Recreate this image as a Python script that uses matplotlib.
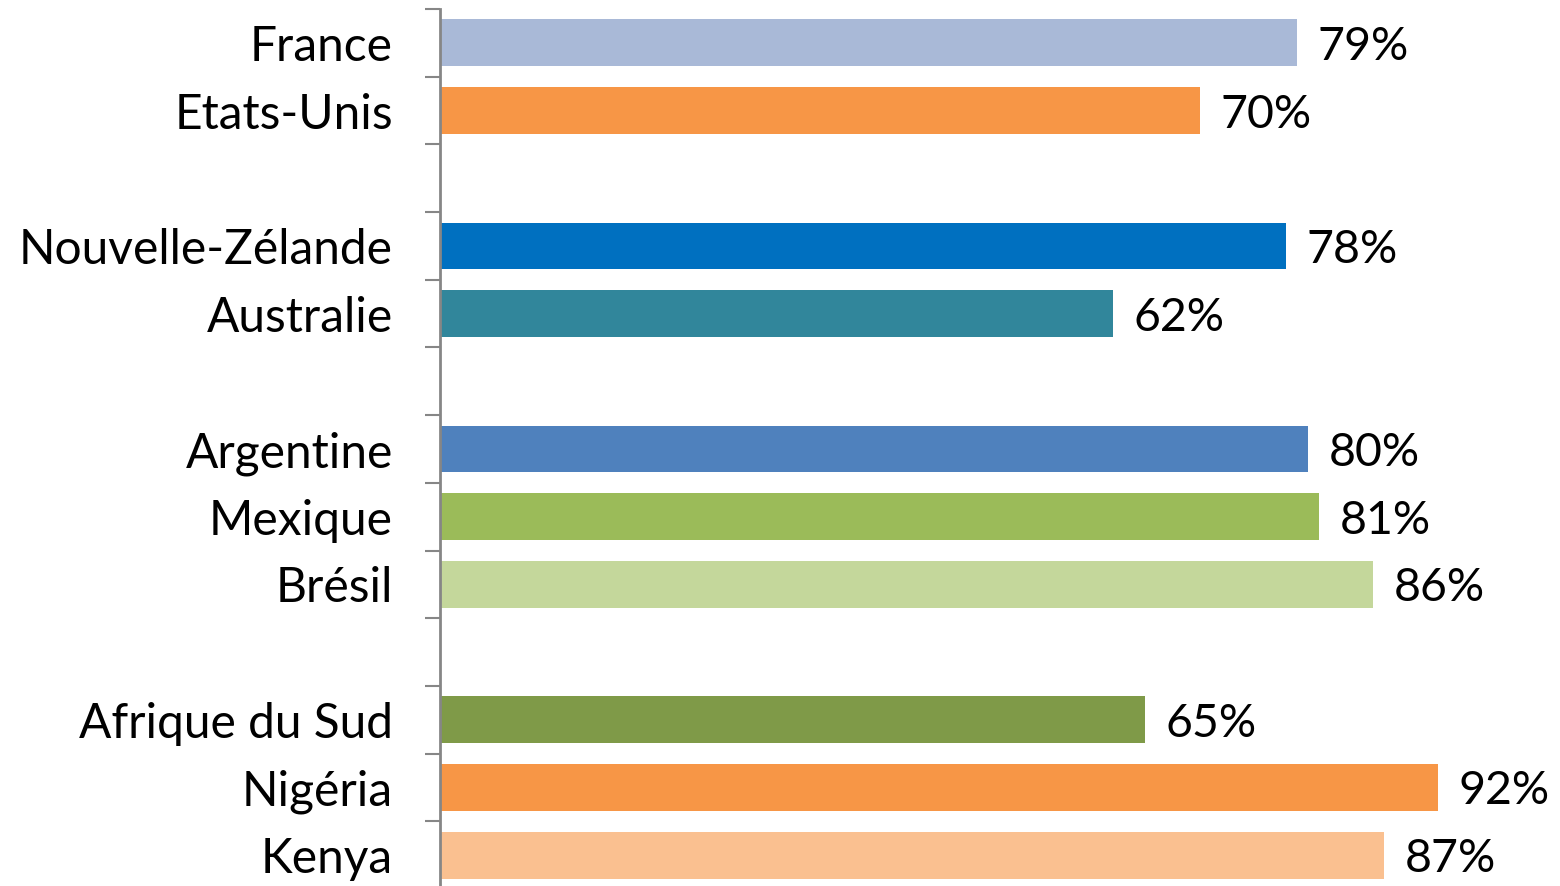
import matplotlib
matplotlib.use("Agg")
import matplotlib.pyplot as plt
from matplotlib.ticker import FixedLocator

# Countries in display order; None marks a blank spacer row between regions
countries = ["France", "Etats-Unis", None,
             "Nouvelle-Zélande", "Australie", None,
             "Argentine", "Mexique", "Brésil", None,
             "Afrique du Sud", "Nigéria", "Kenya"]
values = [79, 70, None,
          78, 62, None,
          80, 81, 86, None,
          65, 92, 87]
colors = ["#A9B9D7", "#F79646", None,
          "#0070C0", "#31869B", None,
          "#4F81BD", "#9BBB59", "#C4D79B", None,
          "#7F9A48", "#F79646", "#FAC090"]

plt.rcParams["font.family"] = ["Lato", "DejaVu Sans"]

fig = plt.figure(figsize=(15.6, 8.86), dpi=100)
ax = fig.add_axes([440 / 1560, -3 / 886, 1085 / 1560, 880 / 886])

pos = [i for i, v in enumerate(values) if v is not None]
vals = [values[i] for i in pos]
cols = [colors[i] for i in pos]
labs = [countries[i] for i in pos]

ax.barh(pos, vals, height=0.69, color=cols, zorder=2)
for p, v in zip(pos, vals):
    ax.text(v + 1.9, p, f"{v}%", va="center_baseline", ha="left",
            fontsize=33.5, color="black")

n = len(values)
ax.set_ylim(n - 0.5, -0.5)
ax.set_xlim(0, 100)

ax.set_yticks(pos)
ax.set_yticklabels(labs, fontsize=34.5)
ax.tick_params(axis="y", which="major", length=0, pad=34)
ax.yaxis.set_minor_locator(FixedLocator([i - 0.5 for i in range(n + 1)]))
ax.tick_params(axis="y", which="minor", length=11, width=1.5, color="#868686")

ax.set_xticks([])
for s in ["top", "right", "bottom"]:
    ax.spines[s].set_visible(False)
ax.spines["left"].set_color("#868686")
ax.spines["left"].set_linewidth(2)

fig.savefig("out.png", dpi=100)
